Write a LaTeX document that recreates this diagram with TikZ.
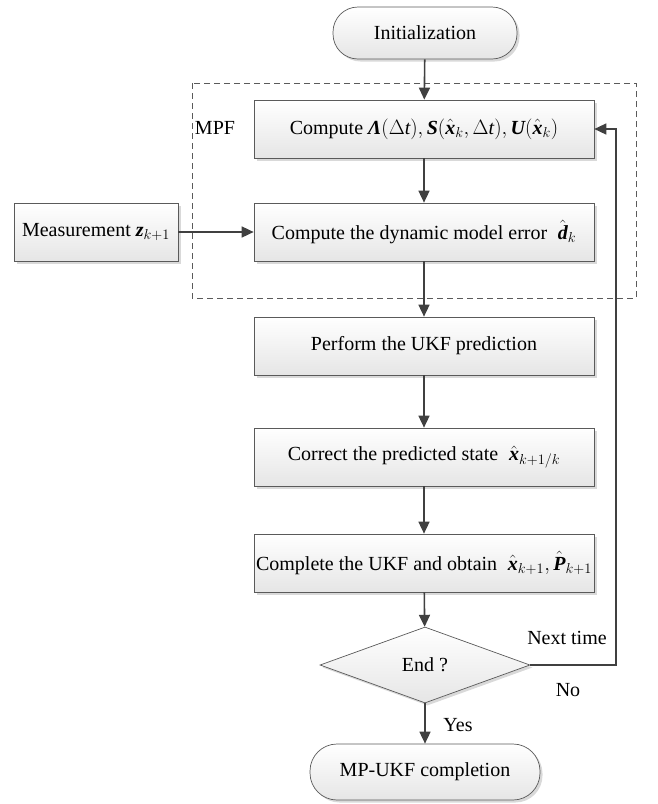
\documentclass[tikz,border=0pt]{standalone}
\usepackage{amsmath}
\usepackage{fontspec}
\setmainfont{Liberation Serif}
\usepackage{tikz}
\usetikzlibrary{calc,shapes.geometric,shadows,arrows.meta}

\definecolor{arrowgray}{HTML}{404040}
\definecolor{boxline}{HTML}{5A5A5A}
\newcommand{\bvar}[1]{\text{\bfseries\itshape #1}}

\begin{document}
\begin{tikzpicture}[x=1pt,y=-1pt,
	every node/.style={font=\fontsize{20}{24}\selectfont},
	shaded/.style={draw=boxline,line width=0.7pt,top color=white,bottom color=gray!20,
		drop shadow={shadow xshift=2.5pt,shadow yshift=-2.5pt,opacity=0.3}},
	procbox/.style={shaded,minimum width=340pt,minimum height=58pt,inner sep=0pt},
	termbox/.style={shaded,rounded corners=25pt,minimum height=52pt,inner sep=0pt},
	flow/.style={arrowgray,line width=1.6pt,-{Triangle[length=12pt,width=11pt]}}]
\useasboundingbox (0,0) rectangle (657,804);

% MPF block
\draw[boxline,line width=0.7pt,dash pattern=on 6pt off 4pt] (192,83) rectangle (636,298);
\node (mpf) at (215,128) {MPF};

\node[termbox,minimum width=184pt] (init) at (425,33) {Initialization};

\foreach \name/\ypos/\txt in {
	box1/129/{Compute $\bvar{Λ}(\Delta \mathit{t}), \bvar{S}(\hat{\bvar{x}}_k,\Delta \mathit{t}), \bvar{U}(\hat{\bvar{x}}_k)$},
	box2/232/{Compute the dynamic model error $\;\hat{\bvar{d}}_k$},
	box3/346/{Perform the UKF prediction},
	box4/457/{Correct the predicted state $\;\hat{\bvar{x}}_{k+1/k}$},
	box5/563/{Complete the UKF and obtain $\;\hat{\bvar{x}}_{k+1}, \hat{\bvar{P}}_{k+1}$}}
	{
	\node[procbox] (\name) at (424,\ypos) {\txt};
	}

\node[shaded,minimum width=164pt,minimum height=58pt,inner sep=0pt] (meas) at (96,232) {Measurement $\bvar{z}_{k+1}$};

\node[shaded,diamond,minimum width=210pt,minimum height=76pt,inner sep=0pt] (endq) at (425,665) {End ?};

\node[termbox,minimum width=230pt,minimum height=56pt,rounded corners=27pt] (done) at (425,772) {MP-UKF completion};

\foreach \a/\b in {init/box1,box1/box2,box2/box3,box3/box4,box4/box5,box5/endq,endq/done}
	{
	\draw[flow] (\a) -- (\b);
	}
\draw[flow] (meas) -- (box2);

% back to the MPF for the next step
\coordinate (loop) at (616,129);
\draw[flow] (endq.east) -| (loop) -- (box1.east);

\node (next) at (567,638) {Next time};
\node (no) at (568,690) {No};
\node (yes) at (458,725) {Yes};
\end{tikzpicture}
\end{document}
